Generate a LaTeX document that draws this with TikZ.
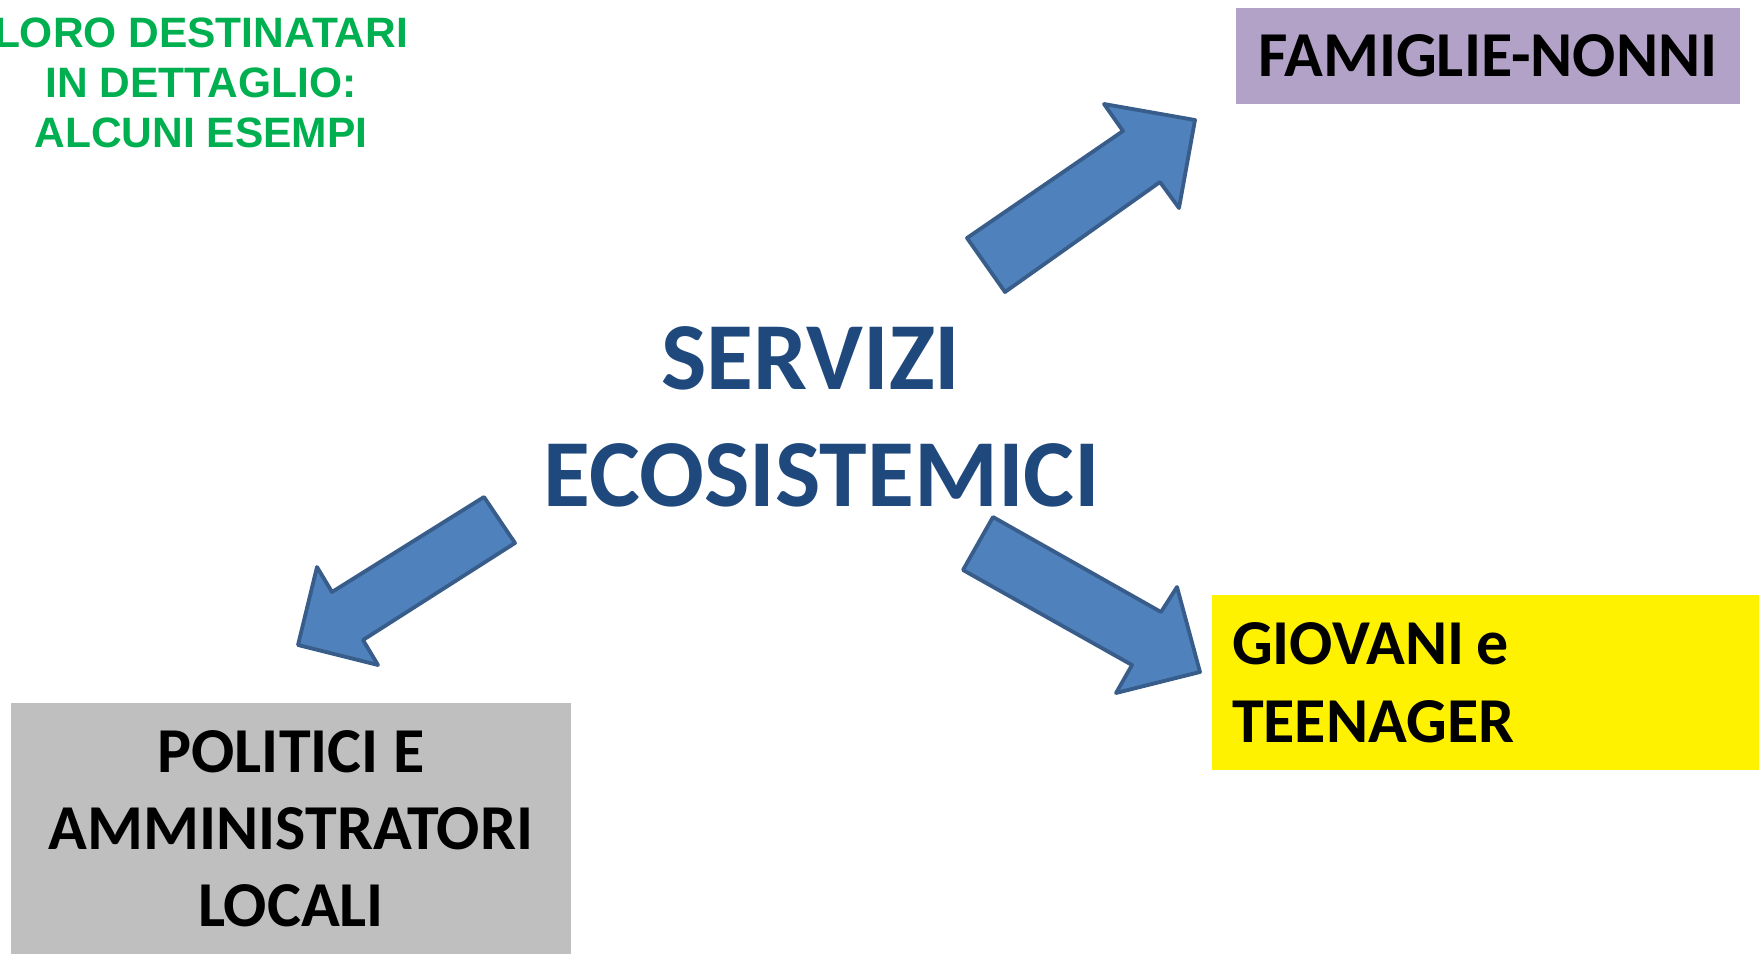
\documentclass[tikz,border=0pt]{standalone}
\usepackage{fontspec}
\setmainfont{Carlito}
\newfontfamily\arialfont{Liberation Sans}

\definecolor{famcolor}{HTML}{B3A2C7}
\definecolor{polcolor}{HTML}{BFBFBF}
\definecolor{titlecolor}{HTML}{1F497D}
\definecolor{notecolor}{HTML}{00B050}
\definecolor{arrowfill}{HTML}{4F81BD}
\definecolor{arrowline}{HTML}{385D8A}

\begin{document}
\begin{tikzpicture}[x=1pt,y=-1pt]
        \tikzstyle{target}=[rectangle,inner sep=0pt,text=black,font=\bfseries\fontsize{64}{77}\selectfont]
        \tikzstyle{bigarrow}=[draw=arrowline,fill=arrowfill,line width=3.8pt,line join=round]
        \useasboundingbox (0,0) rectangle (1759,954);
        \begin{scope}
                % titolo e nota
                \node [inner sep=0pt,align=center,text=titlecolor,font=\bfseries\fontsize{96}{117}\selectfont] (servizi) at (822,417) {SERVIZI\kern22pt\\ECOSISTEMICI};
                \node [inner sep=0pt,align=center,text=notecolor,font=\arialfont\bfseries\fontsize{42.5}{50}\selectfont] (nota) at (201,83) {LORO DESTINATARI\\IN DETTAGLIO:\\ALCUNI ESEMPI};
                % destinatari
                \node [target,fill=famcolor,minimum width=504pt,minimum height=96pt] (famiglie) at (1488,56) {FAMIGLIE-NONNI};
                \node [target,fill=yellow,minimum width=547pt,minimum height=175pt,text width=507pt,align=left,font=\bfseries\fontsize{64}{78}\selectfont] (giovani) at (1485.5,682.5) {GIOVANI\kern12pt e\\TEENAGER};
                \node [target,fill=polcolor,minimum width=560pt,minimum height=251pt,align=center] (politici) at (291,828.5) {POLITICI E\\AMMINISTRATORI\\LOCALI};
                % frecce
                \draw [bigarrow] (967,238) -- (1123,131) -- (1104,104) -- (1195,120) -- (1179,208) -- (1160,182) -- (1005,292) -- cycle;
                \draw [bigarrow] (484,497) -- (332,592) -- (317,567) -- (298,645) -- (378,665) -- (363,640) -- (515,543) -- cycle;
                \draw [bigarrow] (993,517) -- (1161,612) -- (1177,587) -- (1200,672) -- (1116,693) -- (1132,665) -- (963,570) -- cycle;
        \end{scope}
\end{tikzpicture}
\end{document}
